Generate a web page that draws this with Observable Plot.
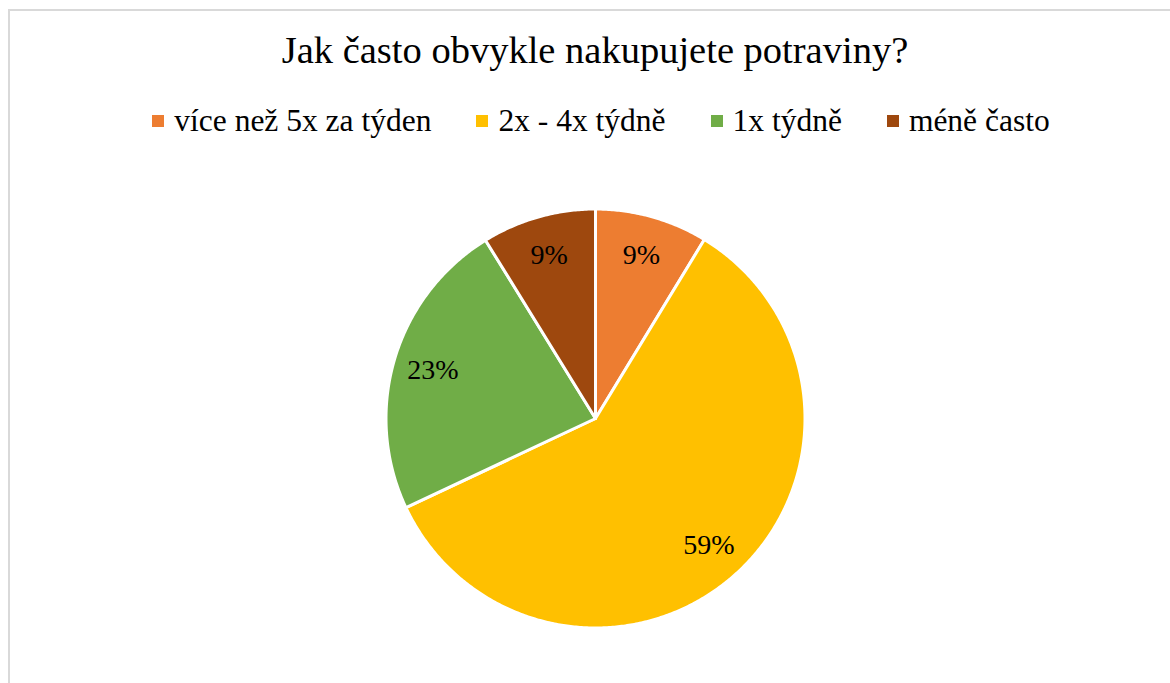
<!DOCTYPE html>
<html>
<head>
<meta charset="utf-8">
<script src="https://cdn.jsdelivr.net/npm/d3@7"></script>
<script src="https://cdn.jsdelivr.net/npm/@observablehq/plot@0.6"></script>
<style>
  html, body { margin: 0; padding: 0; background: #fff; }
  #wrap { position: relative; width: 1170px; height: 683px; overflow: hidden; background: #fff; }
  #frame { position: absolute; left: 8px; top: 9px; width: 1200px; height: 700px; border: 2px solid #d9d9d9; box-sizing: border-box; }
  #title { position: absolute; left: 10px; width: 1170px; top: 28px; text-align: center; font-family: "Liberation Serif", serif; font-size: 38.5px; line-height: normal; color: #000; white-space: nowrap; }
  #legend { position: absolute; left: 16px; width: 1170px; top: 103px; }
  .lg-swatches { font-family: "Liberation Serif", serif !important; font-size: 31.5px !important; justify-content: center; margin: 0 !important; color: #000; }
  .lg-swatch { margin-right: 45px !important; }
  .lg-swatch:last-child { margin-right: 0 !important; }
  .lg-swatch > svg { margin-right: 10px !important; }
  #chart { position: absolute; left: 0; top: 160px; }
  #chart text { font-family: "Liberation Serif", serif !important; }
</style>
</head>
<body>
<div id="wrap">
  <div id="frame"></div>
  <div id="title">Jak často obvykle nakupujete potraviny?</div>
  <div id="legend"></div>
  <div id="chart"></div>
</div>
<script>
const categories = ["více než 5x za týden", "2x - 4x týdně", "1x týdně", "méně často"];
const values = [8.7, 59.3, 23.2, 8.8];
const colors = ["#ED7D31", "#FFC000", "#70AD47", "#9E480E"];

const data = categories.map((c, i) => ({category: c, value: values[i]}));
const total = d3.sum(values);
const arcs = d3.pie().value(d => d.value).sort(null).startAngle(0).endAngle(2 * Math.PI)(data);

// polygon outline points for each slice (angle measured clockwise from top)
const outline = [];
for (const a of arcs) {
  const cat = a.data.category;
  outline.push({category: cat, x: 0, y: 0});
  const n = Math.max(2, Math.ceil((a.endAngle - a.startAngle) / (Math.PI / 360)));
  for (let k = 0; k <= n; k++) {
    const t = a.startAngle + (a.endAngle - a.startAngle) * k / n;
    outline.push({category: cat, x: Math.sin(t), y: Math.cos(t)});
  }
  outline.push({category: cat, x: 0, y: 0});
}

const labels = arcs.map(a => {
  const m = (a.startAngle + a.endAngle) / 2;
  return {category: a.data.category, x: 0.81 * Math.sin(m), y: 0.81 * Math.cos(m),
          text: Math.round(a.data.value / total * 100) + "%"};
});

const W = 1170, H = 523, cx = 595, cy = 258, R = 209.5;

const color = {domain: categories, range: colors};

const chart = Plot.plot({
  width: W,
  height: H,
  margin: 0,
  x: {domain: [-1, 1], range: [cx - R, cx + R], axis: null},
  y: {domain: [-1, 1], range: [cy + R, cy - R], axis: null},
  color,
  style: {background: "transparent", overflow: "visible", fontFamily: "Liberation Serif"},
  marks: [
    Plot.line(outline, {x: "x", y: "y", z: "category", fill: "category", stroke: "#fff", strokeWidth: 3, strokeLinejoin: "round", curve: "linear"}),
    Plot.text(labels, {x: "x", y: "y", text: "text", fill: "#000", fontSize: 28, fontFamily: "Liberation Serif", textAnchor: "middle", lineAnchor: "middle"})
  ]
});
document.getElementById("chart").appendChild(chart);

const legend = Plot.legend({color, legend: "swatches", swatchSize: 12, className: "lg"});
document.getElementById("legend").appendChild(legend);
</script>
</body>
</html>
